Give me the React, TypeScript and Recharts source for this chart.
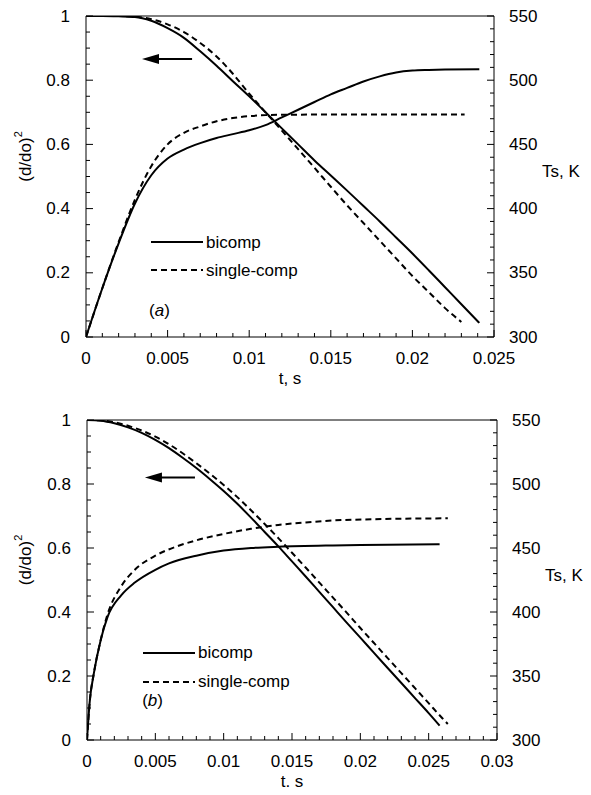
import { LineChart, Line, XAxis, YAxis, Legend, ReferenceLine, ReferenceDot } from "recharts";

const FONT = "'Liberation Sans', Arial, Helvetica, sans-serif";
const FS = 17;
const AX = { stroke: "#000", strokeWidth: 1 };

// ---- panel (a) ----
const tBiDA = [0, 0.001, 0.002, 0.003, 0.004, 0.005, 0.006, 0.007, 0.008, 0.009, 0.01, 0.011, 0.012, 0.013, 0.014, 0.015, 0.016, 0.017, 0.018, 0.019, 0.02, 0.021, 0.022, 0.023, 0.0241];
const biDA = [1, 1, 0.999, 0.997, 0.985, 0.962, 0.932, 0.89, 0.845, 0.797, 0.75, 0.7, 0.65, 0.6, 0.55, 0.503, 0.456, 0.408, 0.36, 0.31, 0.26, 0.208, 0.155, 0.102, 0.044];
const tSiDA = [0, 0.001, 0.002, 0.003, 0.004, 0.005, 0.006, 0.007, 0.008, 0.009, 0.01, 0.011, 0.012, 0.013, 0.014, 0.015, 0.016, 0.017, 0.018, 0.019, 0.02, 0.021, 0.022, 0.023];
const siDA = [1, 1, 1, 0.998, 0.99, 0.974, 0.95, 0.916, 0.874, 0.82, 0.758, 0.7, 0.643, 0.585, 0.527, 0.468, 0.41, 0.355, 0.3, 0.245, 0.19, 0.14, 0.09, 0.047];
const tBiTA = [0, 0.001, 0.002, 0.003, 0.004, 0.005, 0.006, 0.007, 0.008, 0.009, 0.01, 0.011, 0.012, 0.013, 0.014, 0.015, 0.016, 0.017, 0.018, 0.019, 0.02, 0.021, 0.022, 0.0241];
const biTA = [300, 338, 373, 404, 426, 439, 446, 451, 455, 458, 461, 465, 471, 477, 483, 489, 494, 499, 503, 506, 507.5, 508, 508.3, 508.5];
const tSiTA = [0, 0.001, 0.002, 0.003, 0.004, 0.005, 0.006, 0.007, 0.008, 0.009, 0.01, 0.011, 0.012, 0.014, 0.0232];
const siTA = [300, 338, 374, 407, 433, 450, 459, 464, 468, 470.5, 472, 472.8, 473.1, 473.2, 473.2];

// ---- panel (b) ----
const tBiDB = [0, 0.001, 0.002, 0.003, 0.004, 0.005, 0.006, 0.007, 0.008, 0.009, 0.01, 0.011, 0.012, 0.013, 0.014, 0.015, 0.016, 0.017, 0.018, 0.019, 0.02, 0.021, 0.022, 0.023, 0.024, 0.025, 0.0258];
const biDB = [1, 0.998, 0.99, 0.977, 0.96, 0.938, 0.912, 0.882, 0.85, 0.815, 0.778, 0.738, 0.695, 0.65, 0.605, 0.558, 0.511, 0.463, 0.415, 0.367, 0.32, 0.272, 0.225, 0.178, 0.131, 0.084, 0.045];
const tSiDB = [0, 0.001, 0.002, 0.003, 0.004, 0.005, 0.006, 0.007, 0.008, 0.009, 0.01, 0.011, 0.012, 0.013, 0.014, 0.015, 0.016, 0.017, 0.018, 0.019, 0.02, 0.021, 0.022, 0.023, 0.024, 0.025, 0.026, 0.0264];
const siDB = [1, 0.999, 0.993, 0.982, 0.967, 0.948, 0.924, 0.896, 0.865, 0.832, 0.797, 0.759, 0.718, 0.675, 0.631, 0.585, 0.539, 0.492, 0.445, 0.398, 0.35, 0.303, 0.256, 0.209, 0.162, 0.115, 0.068, 0.05];
const tBiTB = [0, 0.0002, 0.0005, 0.001, 0.0015, 0.0025, 0.0035, 0.005, 0.006, 0.008, 0.01, 0.012, 0.014, 0.018, 0.022, 0.0258];
const biTB = [300, 330, 352, 378, 396, 413, 423, 433, 438, 444, 448, 450, 451, 452, 452.5, 453];
const tSiTB = [0, 0.0002, 0.0005, 0.001, 0.0015, 0.0025, 0.0035, 0.005, 0.0065, 0.008, 0.01, 0.012, 0.014, 0.016, 0.018, 0.021, 0.0264];
const siTB = [300, 330, 352, 378, 398, 420, 433, 444, 451, 456, 461, 465, 468, 470, 471.5, 472.5, 473.2];

// ticks
const tMajorA = [0, 0.005, 0.01, 0.015, 0.02, 0.025];
const tMajorB = [0, 0.005, 0.01, 0.015, 0.02, 0.025, 0.03];
const dMajor = [0, 0.2, 0.4, 0.6, 0.8, 1];
const TMajor = [300, 350, 400, 450, 500, 550];

const steps = (lo: number, hi: number, step: number) =>
  Array.from({ length: Math.round((hi - lo) / step) + 1 }, (_, i) => +(lo + i * step).toFixed(6));
const toPts = (ts: number[], vs: number[]) => ts.map((t, i) => ({ t, v: vs[i] }));
const isMajor = (v: number, majors: number[]) => majors.some((m) => Math.abs(m - v) < 1e-9);
const fmt = (v: number) => String(+v.toFixed(4));

const txt = { fontFamily: FONT, fontSize: FS, fill: "#000" };

function BottomTick(props: any) {
  const { x, y, payload, majors } = props;
  const major = isMajor(payload.value, majors);
  return (
    <g>
      <line x1={x} y1={y} x2={x} y2={y - (major ? 7 : 4)} stroke="#000" />
      {major && (
        <text x={x} y={y + 21} textAnchor="middle" dominantBaseline="central" {...txt}>
          {fmt(payload.value)}
        </text>
      )}
    </g>
  );
}

function TopTick(props: any) {
  const { x, y, payload, majors } = props;
  const major = isMajor(payload.value, majors);
  return <line x1={x} y1={y} x2={x} y2={y + (major ? 7 : 4)} stroke="#000" />;
}

function LeftTick(props: any) {
  const { x, y, payload, majors } = props;
  const major = isMajor(payload.value, majors);
  return (
    <g>
      <line x1={x} y1={y} x2={x + (major ? 7 : 4)} y2={y} stroke="#000" />
      {major && (
        <text x={x - 16} y={y} textAnchor="end" dominantBaseline="central" {...txt}>
          {fmt(payload.value)}
        </text>
      )}
    </g>
  );
}

function RightTick(props: any) {
  const { x, y, payload, majors } = props;
  const major = isMajor(payload.value, majors);
  return (
    <g>
      <line x1={x} y1={y} x2={x - (major ? 7 : 4)} y2={y} stroke="#000" />
      {major && (
        <text x={x + 15} y={y} textAnchor="start" dominantBaseline="central" {...txt}>
          {fmt(payload.value)}
        </text>
      )}
    </g>
  );
}

function LegendBox(props: any) {
  const rows = (props.payload || []).filter((e: any) => e.type !== "none");
  return (
    <div style={{ fontFamily: FONT, fontSize: FS, color: "#000" }}>
      {rows.map((e: any) => (
        <div key={e.value} style={{ display: "flex", alignItems: "center", height: props.rowH }}>
          <svg width={52} height={6} style={{ display: "block" }}>
            <line x1={0} y1={3} x2={52} y2={3} stroke="#000" strokeWidth={2} strokeDasharray={e.payload?.strokeDasharray} />
          </svg>
          <span style={{ marginLeft: 3, lineHeight: 1 }}>{e.value}</span>
        </div>
      ))}
    </div>
  );
}

const Arrow = (s: any) => (
  <g>
    <polygon points={`${s.x1},${s.y1} ${s.x1 + 17},${s.y1 - 5} ${s.x1 + 17},${s.y1 + 5}`} fill="#000" />
    <line x1={s.x1 + 15} y1={s.y1} x2={s.x2} y2={s.y2} stroke="#000" strokeWidth={2} />
  </g>
);

const tagShape = (letter: string) => (s: any) => (
  <text x={s.cx} y={s.cy} textAnchor="middle" dominantBaseline="central" {...txt}>
    (<tspan fontStyle="italic">{letter}</tspan>)
  </text>
);

const xTitle = (p: any) => {
  const vb = p.viewBox;
  return (
    <text x={vb.x + vb.width / 2} y={vb.y + 41} textAnchor="middle" dominantBaseline="central" {...txt}>
      t, s
    </text>
  );
};

const leftTitle = (p: any) => {
  const vb = p.viewBox;
  const cx = vb.x + 17;
  const cy = vb.y + vb.height / 2 - 20;
  return (
    <text x={cx} y={cy} transform={`rotate(-90, ${cx}, ${cy})`} textAnchor="middle" dominantBaseline="central" {...txt}>
      (d/do)<tspan dy={-7} fontSize={11}>2</tspan>
    </text>
  );
};

const rightTitle = (p: any) => {
  const vb = p.viewBox;
  return (
    <text x={vb.x + 48} y={vb.y + vb.height / 2 - 5} textAnchor="start" dominantBaseline="central" {...txt}>
      Ts, K
    </text>
  );
};

type Pt = { t: number; v: number };
type PanelProps = {
  height: number;
  margin: { top: number; right: number; bottom: number; left: number };
  leftWidth: number;
  tMax: number;
  tMajor: number[];
  biD: Pt[];
  siD: Pt[];
  biT: Pt[];
  siT: Pt[];
  tag: string;
  tagAt: { t: number; d: number };
  arrow: { tip: number; tail: number; d: number };
  legendAt: { left: number; top: number; rowH: number };
};

function Panel(p: PanelProps) {
  const tMinor = steps(0, p.tMax, 0.001);
  const dTicks = steps(0, 1, 0.05);
  const TTicks = steps(300, 550, 10);
  return (
    <LineChart width={583} height={p.height} margin={p.margin}>
      <XAxis
        xAxisId="top"
        orientation="top"
        type="number"
        domain={[0, p.tMax]}
        ticks={tMinor}
        interval={0}
        height={1}
        allowDataOverflow
        axisLine={AX}
        tickLine={false}
        tickSize={0}
        tickMargin={0}
        tick={<TopTick majors={p.tMajor} />}
      />
      <XAxis
        dataKey="t"
        type="number"
        domain={[0, p.tMax]}
        ticks={tMinor}
        interval={0}
        height={45}
        allowDataOverflow
        axisLine={AX}
        tickLine={false}
        tickSize={0}
        tickMargin={0}
        tick={<BottomTick majors={p.tMajor} />}
        label={xTitle}
      />
      <YAxis
        yAxisId="d"
        type="number"
        domain={[0, 1]}
        ticks={dTicks}
        interval={0}
        width={p.leftWidth}
        allowDataOverflow
        axisLine={AX}
        tickLine={false}
        tickSize={0}
        tickMargin={0}
        tick={<LeftTick majors={dMajor} />}
        label={leftTitle}
      />
      <YAxis
        yAxisId="T"
        orientation="right"
        type="number"
        domain={[300, 550]}
        ticks={TTicks}
        interval={0}
        width={60}
        allowDataOverflow
        axisLine={AX}
        tickLine={false}
        tickSize={0}
        tickMargin={0}
        tick={<RightTick majors={TMajor} />}
        label={rightTitle}
      />
      <Legend
        layout="vertical"
        align="center"
        verticalAlign="middle"
        wrapperStyle={{ left: p.legendAt.left, top: p.legendAt.top, width: 220 }}
        content={<LegendBox rowH={p.legendAt.rowH} />}
      />
      <Line yAxisId="d" data={p.biD} dataKey="v" name="bicomp" type="monotone" stroke="#000" strokeWidth={2} dot={false} isAnimationActive={false} />
      <Line yAxisId="d" data={p.siD} dataKey="v" name="single-comp" type="monotone" stroke="#000" strokeWidth={2} strokeDasharray="6 4" dot={false} isAnimationActive={false} />
      <Line yAxisId="T" data={p.biT} dataKey="v" name="bicomp T" legendType="none" type="monotone" stroke="#000" strokeWidth={2} dot={false} isAnimationActive={false} />
      <Line yAxisId="T" data={p.siT} dataKey="v" name="single-comp T" legendType="none" type="monotone" stroke="#000" strokeWidth={2} strokeDasharray="6 4" dot={false} isAnimationActive={false} />
      <ReferenceLine
        yAxisId="d"
        segment={[
          { x: p.arrow.tip, y: p.arrow.d },
          { x: p.arrow.tail, y: p.arrow.d },
        ]}
        shape={Arrow}
      />
      <ReferenceDot yAxisId="d" x={p.tagAt.t} y={p.tagAt.d} r={0} shape={tagShape(p.tag)} />
    </LineChart>
  );
}

export default function App() {
  return (
    <div style={{ width: 583 }}>
      <style>{"svg.recharts-surface{overflow:visible}"}</style>
      <Panel
        height={395}
        margin={{ top: 7, right: 37, bottom: 21, left: 0 }}
        leftWidth={78}
        tMax={0.025}
        tMajor={tMajorA}
        biD={toPts(tBiDA, biDA)}
        siD={toPts(tSiDA, siDA)}
        biT={toPts(tBiTA, biTA)}
        siT={toPts(tSiTA, siTA)}
        tag="a"
        tagAt={{ t: 0.0045, d: 0.084 }}
        arrow={{ tip: 0.00343, tail: 0.0065, d: 0.866 }}
        legendAt={{ left: 143, top: 220, rowH: 28 }}
      />
      <Panel
        height={384}
        margin={{ top: 16, right: 34, bottom: 2, left: 0 }}
        leftWidth={79}
        tMax={0.03}
        tMajor={tMajorB}
        biD={toPts(tBiDB, biDB)}
        siD={toPts(tSiDB, siDB)}
        biT={toPts(tBiTB, biTB)}
        siT={toPts(tSiTB, siTB)}
        tag="b"
        tagAt={{ t: 0.0048, d: 0.125 }}
        arrow={{ tip: 0.00424, tail: 0.0079, d: 0.82 }}
        legendAt={{ left: 135, top: 235, rowH: 29 }}
      />
    </div>
  );
}
